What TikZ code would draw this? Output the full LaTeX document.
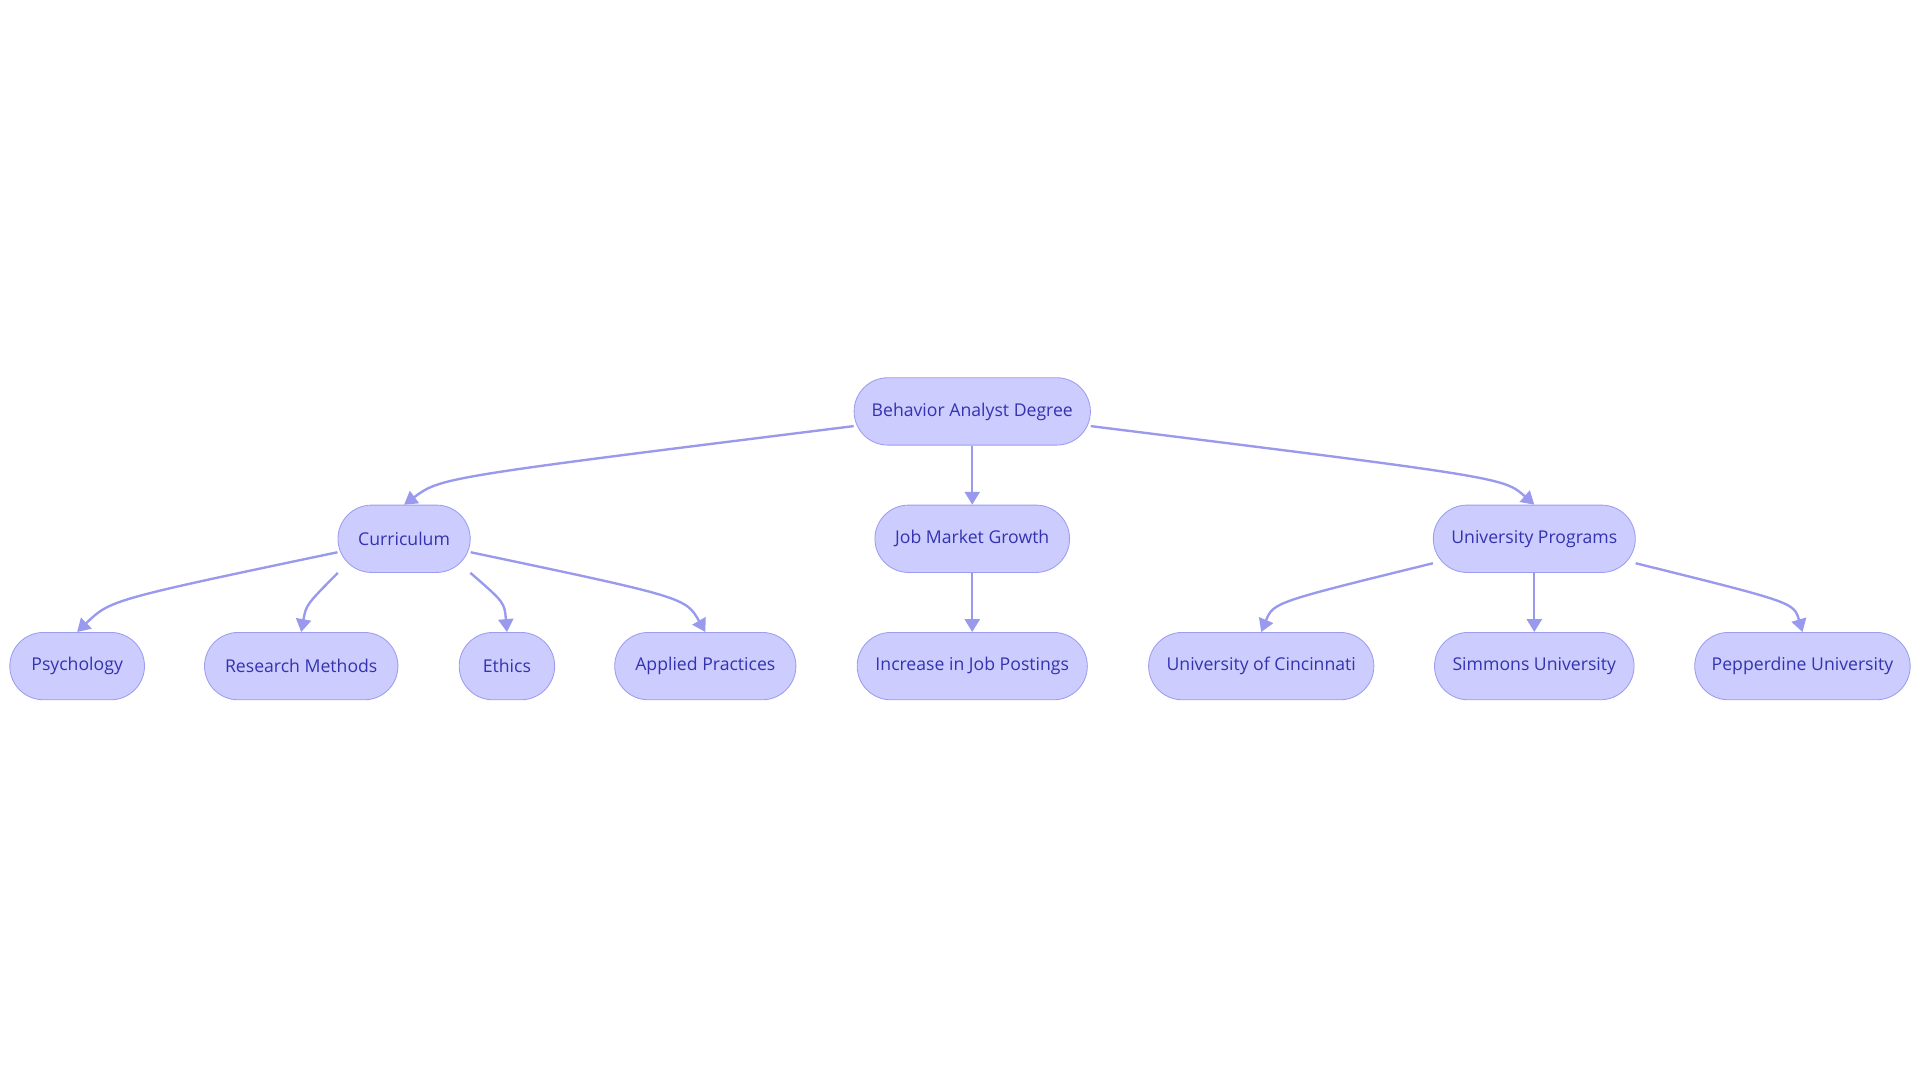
\documentclass[tikz,border=0pt]{standalone}
\usepackage{fontspec}
\setmainfont{Open Sans}
\usetikzlibrary{arrows.meta}
\definecolor{boxfill}{HTML}{CCCCFF}
\definecolor{boxline}{HTML}{9D9DF0}
\definecolor{boxtext}{HTML}{3333B0}
\definecolor{linkcol}{HTML}{9999EE}
\tikzset{
  topic/.style={draw=boxline,fill=boxfill,text=boxtext,rounded corners=0.55cm,
    minimum height=1.1cm,inner sep=0pt,font=\fontsize{8.2}{10}\selectfont},
  link/.style={draw=linkcol,line width=1.1pt,-{Triangle[length=6pt,width=7pt]}}
}
\begin{document}
\begin{tikzpicture}[x=0.02cm,y=-0.02cm]
   \useasboundingbox (0,0) rectangle (1568,884);
   % Top
   \node[topic,minimum width=3.86cm] (degree) at (794,336) {Behavior Analyst Degree};
   % Middle
   \node[topic,minimum width=2.16cm] (curr) at (330,440) {Curriculum};
   \node[topic,minimum width=3.18cm] (job) at (794,440) {Job Market Growth};
   \node[topic,minimum width=3.30cm] (univ) at (1253,440) {University Programs};
   % Bottom
   \node[topic,minimum width=2.20cm] (psy) at (63,544) {Psychology};
   \node[topic,minimum width=3.16cm] (res) at (246,544) {Research Methods};
   \node[topic,minimum width=1.56cm] (eth) at (414,544) {Ethics};
   \node[topic,minimum width=2.96cm] (app) at (576,544) {Applied Practices};
   \node[topic,minimum width=3.76cm] (post) at (794,544) {Increase in Job Postings};
   \node[topic,minimum width=3.68cm] (cin) at (1030,544) {University of Cincinnati};
   \node[topic,minimum width=3.26cm] (sim) at (1253,544) {Simmons University};
   \node[topic,minimum width=3.52cm] (pep) at (1472,544) {Pepperdine University};
   % Links
   \draw[link] ([yshift=-0.24cm]degree.west) .. controls (360,390) .. (curr.north);
   \draw[link] (degree) -- (job);
   \draw[link] ([yshift=-0.24cm]degree.east) .. controls (1228,390) .. (univ.north);
   \draw[link] ([yshift=-0.22cm]curr.west) .. controls (90,490) .. (psy.north);
   \draw[link] (curr.south west) ++(0.2,0) .. controls (250,494) .. (res.north);
   \draw[link] (curr.south east) ++(-0.2,0) .. controls (412,492) .. (eth.north);
   \draw[link] ([yshift=-0.22cm]curr.east) .. controls (560,488) .. (app.north);
   \draw[link] (job) -- (post);
   \draw[link] ([yshift=-0.4cm]univ.west) .. controls (1040,492) .. (cin.north);
   \draw[link] (univ) -- (sim);
   \draw[link] ([yshift=-0.4cm]univ.east) .. controls (1465,492) .. (pep.north);
\end{tikzpicture}
\end{document}
